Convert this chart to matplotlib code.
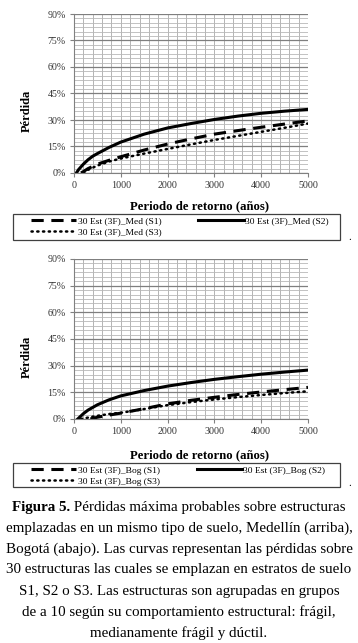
import matplotlib
matplotlib.use("Agg")
import matplotlib.pyplot as plt
from matplotlib.patches import Rectangle
from matplotlib.ticker import MultipleLocator, FuncFormatter

plt.rcParams['font.family'] = ['Liberation Serif', 'DejaVu Serif']

# Medellin (arriba)
med_s1_x = [150, 200, 300, 500, 750, 1000, 1500, 2000, 2500, 3000, 3500, 4000, 4500, 5000]
med_s1_y = [0, 0.8, 2.5, 5.0, 7.2, 9.2, 13.0, 16.4, 19.3, 22.0, 24.0, 25.9, 27.7, 29.5]
med_s2_x = [50, 100, 200, 300, 400, 500, 750, 1000, 1500, 2000, 2500, 3000, 3500, 4000, 4500, 5000]
med_s2_y = [0, 2.0, 5.0, 7.5, 9.5, 11.0, 14.5, 17.5, 22.0, 25.5, 28.0, 30.3, 32.2, 33.8, 35.0, 36.0]
med_s3_x = [200, 300, 500, 750, 1000, 1500, 2000, 2500, 3000, 3500, 4000, 4500, 5000]
med_s3_y = [0, 1.8, 4.2, 6.5, 8.2, 11.0, 13.6, 16.2, 18.7, 21.0, 23.3, 25.6, 28.0]

# Bogota (abajo)
bog_s1_x = [350, 500, 750, 1000, 1500, 2000, 2500, 3000, 3500, 4000, 4500, 5000]
bog_s1_y = [0, 1.0, 2.2, 3.3, 5.8, 8.5, 10.5, 12.2, 13.8, 15.2, 16.5, 17.8]
bog_s2_x = [80, 200, 300, 500, 750, 1000, 1500, 2000, 2500, 3000, 3500, 4000, 4500, 5000]
bog_s2_y = [0, 3.0, 5.0, 8.0, 10.8, 13.0, 16.0, 18.5, 20.5, 22.3, 23.8, 25.2, 26.4, 27.5]
bog_s3_x = [150, 300, 500, 750, 1000, 1500, 2000, 2500, 3000, 3500, 4000, 4500, 5000]
bog_s3_y = [0, 0.8, 1.8, 2.8, 3.5, 5.6, 7.8, 9.5, 11.0, 12.3, 13.5, 14.6, 15.6]

med_labels = ["30 Est (3F)_Med (S1)", "30 Est (3F)_Med (S2)", "30 Est (3F)_Med (S3)"]
bog_labels = ["30 Est (3F)_Bog (S1)", "30 Est (3F)_Bog (S2)", "30 Est (3F)_Bog (S3)"]

caption = [
    "emplazadas en un mismo tipo de suelo, Medellín (arriba),",
    "Bogotá (abajo). Las curvas representan las pérdidas sobre",
    "30 estructuras las cuales se emplazan en estratos de suelo",
    "S1, S2 o S3. Las estructuras son agrupadas en grupos",
    "de a 10 según su comportamiento estructural: frágil,",
    "medianamente frágil y dúctil.",
]

W, H = 358, 643
fig = plt.figure(figsize=(W / 100, H / 100), dpi=100)


def px(x, y):
    return x / W, 1 - y / H


def panel(top, bottom, data, labels, ylab_y, xlab_y, leg_top, leg_bot):
    ax = fig.add_axes([74 / W, 1 - bottom / H, 234 / W, (bottom - top) / H])
    ax.set_xlim(0, 5000)
    ax.set_ylim(0, 90)
    ax.xaxis.set_major_locator(MultipleLocator(1000))
    ax.xaxis.set_minor_locator(MultipleLocator(200))
    ax.yaxis.set_major_locator(MultipleLocator(15))
    ax.yaxis.set_minor_locator(MultipleLocator(2.5))
    ax.yaxis.set_major_formatter(FuncFormatter(lambda v, p: f"{v:.0f}%"))
    ax.grid(which='minor', axis='y', color='#b8b8b8', lw=0.6)
    ax.grid(which='minor', axis='x', color='#a8a8a8', lw=0.6)
    ax.grid(which='major', axis='x', color='#a8a8a8', lw=0.6)
    ax.grid(which='major', axis='y', color='#7f7f7f', lw=0.9)
    ax.set_axisbelow(True)
    for s in ['top', 'right']:
        ax.spines[s].set_visible(False)
    for s in ['left', 'bottom']:
        ax.spines[s].set_color('#808080')
        ax.spines[s].set_linewidth(0.8)
    ax.tick_params(which='major', length=3, color='#808080', labelsize=7.2,
                   labelcolor='#333333', pad=3)
    ax.tick_params(which='minor', length=0)

    (x1, y1), (x2, y2), (x3, y3) = data
    l1, = ax.plot(x1, y1, color='black', lw=2.2, dashes=(4, 2.5))
    l2, = ax.plot(x2, y2, color='black', lw=2.2)
    l3, = ax.plot(x3, y3, color='black', lw=1.8, dashes=(0.5, 1.8),
                  dash_capstyle='round')

    tx, ty = px(27, ylab_y)
    fig.text(tx, ty, "Pérdida", rotation=90, fontsize=9, fontweight='bold',
             ha='center', va='center')
    tx, ty = px(200, xlab_y)
    fig.text(tx, ty, "Periodo de retorno (años)", fontsize=9.2, fontweight='bold',
             ha='center', va='center')

    # legend frame
    x0, yb = px(13, leg_bot)
    fig.patches.append(Rectangle((x0, yb), 327 / W, (leg_bot - leg_top) / H,
                                 transform=fig.transFigure, fill=False,
                                 edgecolor='#404040', lw=0.9))
    lx, ly = px(31, leg_top + 3)
    fig.legend([l1, l3, l2], [labels[0], labels[2], labels[1]], ncol=2,
               loc='upper left', bbox_to_anchor=(lx, ly),
               fontsize=6.8, frameon=False,
               handlelength=4.8, handletextpad=0.15, borderpad=0,
               labelspacing=0.25, borderaxespad=0, columnspacing=3.9)
    tx, ty = px(350, leg_bot - 3)
    fig.text(tx, ty, ".", fontsize=8, ha='center', va='center')
    return ax


panel(14, 173, [(med_s1_x, med_s1_y), (med_s2_x, med_s2_y), (med_s3_x, med_s3_y)],
      med_labels, 111, 206, 214, 240)
panel(259, 419, [(bog_s1_x, bog_s1_y), (bog_s2_x, bog_s2_y), (bog_s3_x, bog_s3_y)],
      bog_labels, 357, 455, 463, 487)

# caption
fig.canvas.draw()
r = fig.canvas.get_renderer()
fs = 10.8
t1 = fig.text(0, 0, "Figura 5.", fontsize=fs, fontweight='bold')
t2 = fig.text(0, 0, " Pérdidas máxima probables sobre estructuras", fontsize=fs)
w1 = t1.get_window_extent(r).width
w2 = t2.get_window_extent(r).width
start = (W - (w1 + w2)) / 2
t1.set_position(px(start, 507))
t1.set_va('center')
t2.set_position(px(start + w1, 507))
t2.set_va('center')
for i, line in enumerate(caption):
    tx, ty = px(179, 528 + i * 21)
    fig.text(tx, ty, line, fontsize=fs, ha='center', va='center')

fig.savefig("out.png", dpi=100)
